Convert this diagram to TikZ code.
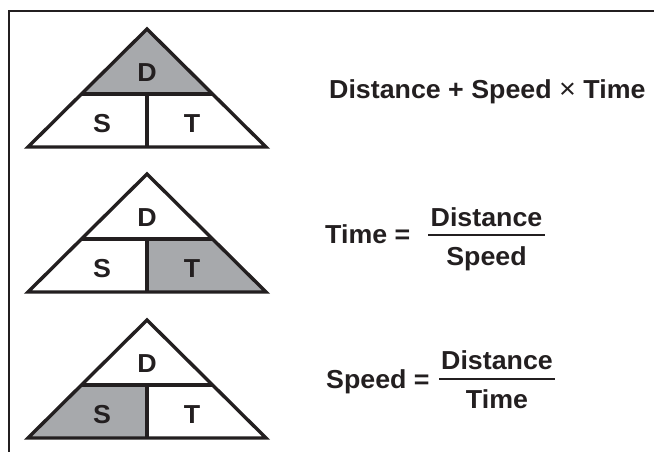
\documentclass[tikz,border=0pt]{standalone}
\usepackage{fontspec}
\setmainfont{Liberation Sans}[FakeStretch=1.03]
\definecolor{tgray}{HTML}{A7A9AC}
\definecolor{ink}{HTML}{231F20}
\tikzset{
  edge/.style={line width=3.4pt, draw=ink, line join=miter},
  frame/.style={line width=2pt, draw=ink},
  lbl/.style={font=\fontsize{26}{31}\selectfont\bfseries, inner sep=0pt, text=ink},
  bar/.style={line width=2.2pt, draw=ink}
}
\newcommand\speedtri[4]{%
\begin{scope}[shift={(0,#1)}]
  \coordinate (A#1) at (147,0);
  \coordinate (L#1) at (28,118);
  \coordinate (R#1) at (266,118);
  \coordinate (DL#1) at (81.45,65);
  \coordinate (DR#1) at (212.55,65);
  \coordinate (M#1) at (147,65);
  \coordinate (B#1) at (147,118);
  \fill[fill=#2] (A#1) -- (DL#1) -- (DR#1) -- cycle;
  \fill[fill=#3] (DL#1) -- (M#1) -- (B#1) -- (L#1) -- cycle;
  \fill[fill=#4] (M#1) -- (DR#1) -- (R#1) -- (B#1) -- cycle;
  \draw[edge] (L#1) -- (A#1) -- (R#1) -- cycle;
  \draw[edge] (DL#1) -- (DR#1);
  \draw[edge] (M#1) -- (B#1);
  \node[lbl] (d#1) at (147,44) {D};
  \node[lbl] (s#1) at (102,95) {S};
  \node[lbl] (t#1) at (192,95) {T};
\end{scope}}
\begin{document}
\begin{tikzpicture}[x=1pt,y=-1pt]
\useasboundingbox (0,0) rectangle (654,452);
\fill[white] (0,0) rectangle (654,452);
\coordinate (fr) at (654,11);
\coordinate (fc) at (9,11);
\coordinate (fb) at (9,452);
\draw[frame] (fr) -- (fc) -- (fb);

\speedtri{29}{tgray}{white}{white}
\speedtri{174}{white}{white}{tgray}
\speedtri{320}{white}{tgray}{white}

% formula 1
\node[lbl, anchor=base west] (f1) at (329,99) {Distance + Speed {\mdseries\fontsize{28}{31}\selectfont ×} Time};

% formula 2
\node[lbl, anchor=base west] (f2l) at (325,243) {Time =};
\node[lbl, anchor=base] (f2n) at (486.5,226) {Distance};
\node[lbl, anchor=base] (f2d) at (486.5,265) {Speed};
\coordinate (f2a) at (428,235);
\coordinate (f2b) at (545,235);
\draw[bar] (f2a) -- (f2b);

% formula 3
\node[lbl, anchor=base west] (f3l) at (326,388) {Speed =};
\node[lbl, anchor=base] (f3n) at (497,369) {Distance};
\node[lbl, anchor=base] (f3d) at (497,408) {Time};
\coordinate (f3a) at (439,379);
\coordinate (f3b) at (555,379);
\draw[bar] (f3a) -- (f3b);
\end{tikzpicture}
\end{document}
